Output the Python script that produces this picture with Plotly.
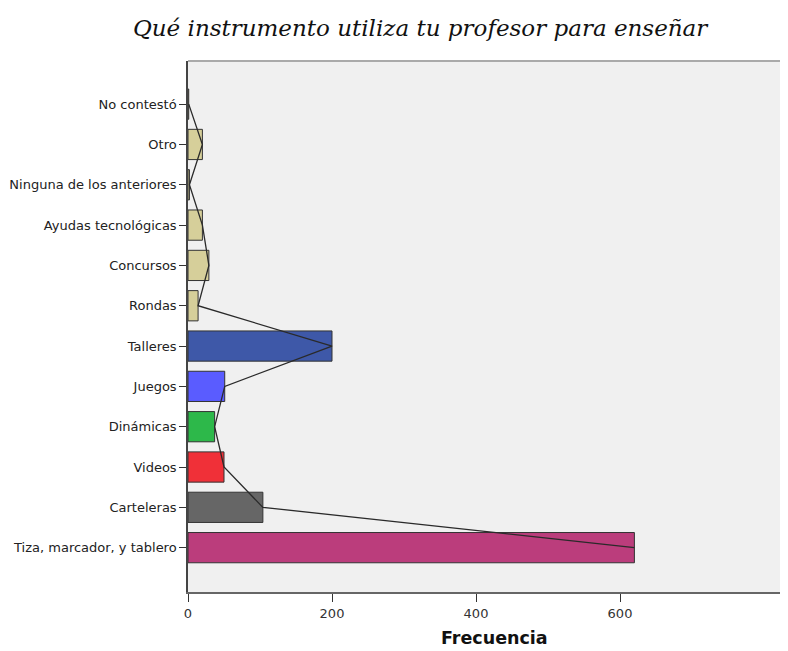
import plotly.graph_objects as go

categories = ["Tiza, marcador, y tablero", "Carteleras", "Videos", "Dinámicas", "Juegos",
              "Talleres", "Rondas", "Concursos", "Ayudas tecnológicas",
              "Ninguna de los anteriores", "Otro", "No contestó"]
values = [620, 104, 50, 37, 51, 200, 14, 29, 20, 2, 20, 1]
colors = ["#bb3d7c", "#666666", "#f03038", "#2db84a", "#5a5cff", "#3e58a8",
          "#d6cf9a", "#d6cf9a", "#d6cf9a", "#d6cf9a", "#d6cf9a", "#d6cf9a"]
x_ticks = [0, 200, 400, 600]

L, R = 180, 0
plot_w = 788 - L - R

fig = go.Figure()
fig.add_trace(go.Bar(
    x=values, y=categories, orientation="h",
    marker=dict(color=colors, line=dict(color="#333333", width=1)),
    width=0.75, showlegend=False, hoverinfo="x+y"))
fig.add_trace(go.Scatter(
    x=values, y=categories, mode="lines",
    line=dict(color="#2a2a2a", width=1.3), showlegend=False, hoverinfo="skip"))

fig.update_layout(
    width=788, height=651,
    margin=dict(l=L, r=R, t=53, b=67),
    paper_bgcolor="white", plot_bgcolor="#f0f0f0",
    title=dict(text="Qué instrumento utiliza tu profesor para enseñar",
               x=0.523, xanchor="center", y=0.969, yanchor="middle",
               font=dict(family="DejaVu Serif", size=23, color="#111111", style="italic")),
)
fig.update_xaxes(
    range=[0, plot_w / 0.72], tickvals=x_ticks, ticks="outside", ticklen=8, tickwidth=1.2,
    tickcolor="#333333", showgrid=False, zeroline=False, automargin=False,
    showline=True, linecolor="#666666", linewidth=2,
    tickfont=dict(family="DejaVu Sans", size=13, color="#333333"),
)
fig.update_yaxes(
    type="category", categoryorder="array", categoryarray=categories,
    range=[-1.1, 12.07], ticks="outside", ticklen=7, tickwidth=1.2,
    tickcolor="#333333", showgrid=False, zeroline=False, automargin=False,
    showline=True, linecolor="#444444", linewidth=1.5, mirror=False,
    tickfont=dict(family="DejaVu Sans", size=13, color="#222222"),
)
fig.add_annotation(text="<b>Frecuencia</b>", xref="paper", yref="paper",
                   x=(486 - L) / plot_w, y=-0.086, xanchor="center", yanchor="middle",
                   showarrow=False,
                   font=dict(family="DejaVu Sans", size=17.5, color="#111111"))
fig.add_shape(type="line", xref="paper", yref="paper", x0=0, x1=1, y0=1, y1=1,
              line=dict(color="#aaaaaa", width=2))

fig.write_html("out.html")
